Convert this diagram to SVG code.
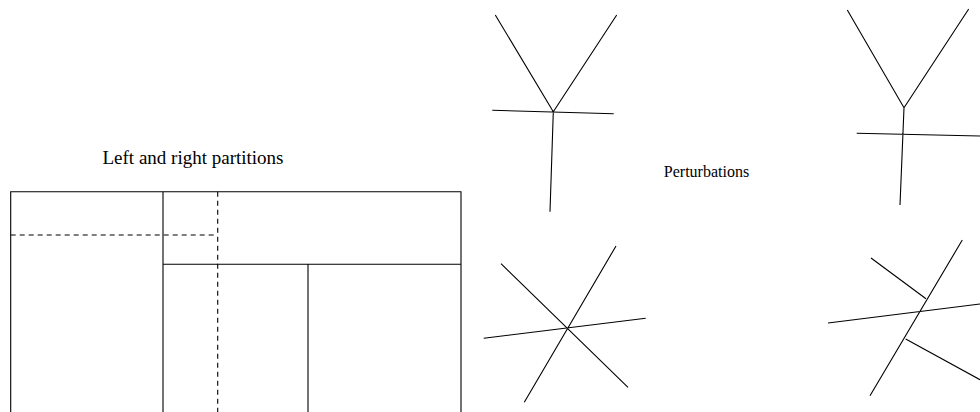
<svg xmlns="http://www.w3.org/2000/svg" width="980" height="412" viewBox="0 0 980 412">
<style>
.l{stroke:#000;stroke-width:1.1;fill:none;stroke-linecap:butt}
.d{stroke:#000;stroke-width:1.1;fill:none;stroke-dasharray:5 4}
text{font-family:"Liberation Serif","Times New Roman",serif;fill:#000}
</style>
<rect width="980" height="412" fill="#fff"/>
<g id="partitions">
<text x="193" y="163.5" font-size="19" text-anchor="middle">Left and right partitions</text>
<path class="l" d="M10.7 420V191.7H461V420M163 191.7V420M163 264.3H461M308 264.3V420"/>
<path class="d" d="M10.7 235H217.7M217.7 191.7V420"/>
</g>
<g id="perturbations-label">
<text x="706.5" y="177.3" font-size="16" text-anchor="middle">Perturbations</text>
</g>
<g id="tree-top-left">
<path class="l" d="M495.3 15L553.3 111.7L616.7 15M553.3 111.7L550 211.7M492.3 110.3L613.7 113.7"/>
</g>
<g id="tree-top-right">
<path class="l" d="M847.3 10L904 107.7L968.7 9M904 107.7L900 205M856.7 133.3L980 136"/>
</g>
<g id="star-bottom-left">
<path class="l" d="M501 263.7L628 387.3M616 246L524.3 402.3M483.7 338.3L645.7 318.3"/>
</g>
<g id="star-bottom-right">
<path class="l" d="M962.3 240L870 395.7M828 323L980 304M871 258L926 298.7M905.7 339L980 379.7"/>
</g>
</svg>
